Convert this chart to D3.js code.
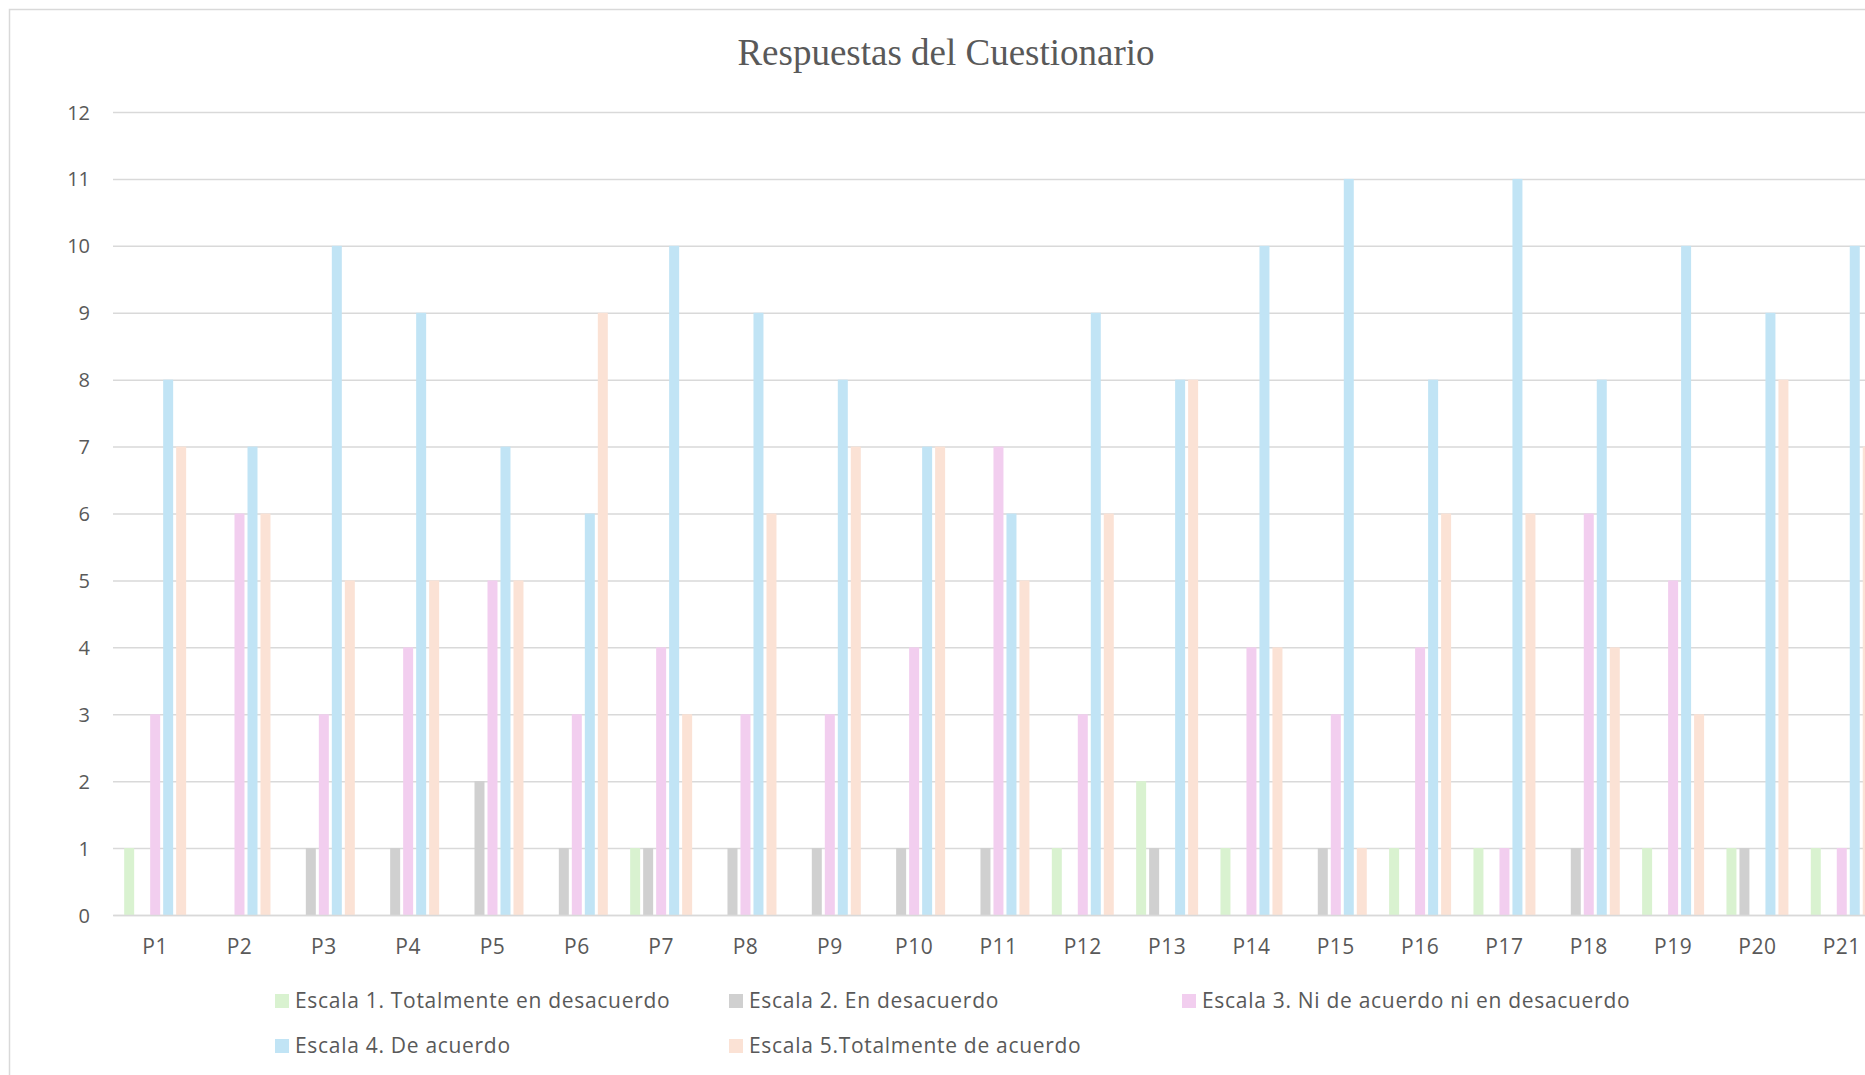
<!DOCTYPE html>
<html lang="es">
<head>
<meta charset="utf-8">
<title>Respuestas del Cuestionario</title>
<script src="https://cdn.jsdelivr.net/npm/d3@7/dist/d3.min.js"></script>
<style>
  html, body { margin: 0; padding: 0; background: #ffffff; overflow: hidden; }
  svg { display: block; }
  .tick-label, .legend-label { font-family: "Open Sans", "Liberation Sans", Arial, sans-serif; fill: #595959; }
  .title { font-family: "Liberation Serif", "Times New Roman", serif; fill: #595959; }
</style>
</head>
<body>
<svg id="chart" width="1865" height="1075"></svg>
<script>
// Preguntas del cuestionario
const categories = ["P1","P2","P3","P4","P5","P6","P7","P8","P9","P10","P11","P12","P13","P14","P15","P16","P17","P18","P19","P20","P21"];

// Nombres de las escalas de respuesta
const seriesNames = [
  "Escala 1. Totalmente en desacuerdo",
  "Escala 2. En desacuerdo",
  "Escala 3. Ni de acuerdo ni en desacuerdo",
  "Escala 4. De acuerdo",
  "Escala 5.Totalmente de acuerdo"
];

// Número de respuestas por escala y pregunta
const escala1 = [1,0,0,0,0,0,1,0,0,0,0,1,2,1,0,1,1,0,1,1,1];
const escala2 = [0,0,1,1,2,1,1,1,1,1,1,0,1,0,1,0,0,1,0,1,0];
const escala3 = [3,6,3,4,5,3,4,3,3,4,7,3,0,4,3,4,1,6,5,0,1];
const escala4 = [8,7,10,9,7,6,10,9,8,7,6,9,8,10,11,8,11,8,10,9,10];
const escala5 = [7,6,5,5,5,9,3,6,7,7,5,6,8,4,1,6,6,4,3,8,7];

const yTicks = [0,1,2,3,4,5,6,7,8,9,10,11,12];

const colors = ["#d9f2d0", "#d0d0d0", "#f2ceef", "#c1e4f5", "#fbe2d5"];

const seriesValues = [escala1, escala2, escala3, escala4, escala5];

const svg = d3.select("#chart");

// Marco del gráfico
svg.append("rect")
  .attr("x", 9.5).attr("y", 9.5)
  .attr("width", 1900).attr("height", 1100)
  .attr("fill", "#ffffff")
  .attr("stroke", "#d9d9d9")
  .attr("stroke-width", 1.5);

// Título
svg.append("text")
  .attr("class", "title")
  .attr("x", 946).attr("y", 65)
  .attr("text-anchor", "middle")
  .attr("font-size", 37)
  .text("Respuestas del Cuestionario");

const plotLeft = 113;
const step = 84.33;
const plotRight = plotLeft + step * categories.length;

const x = d3.scaleBand()
  .domain(categories)
  .range([plotLeft, plotRight])
  .paddingInner(0.265)
  .paddingOuter(0.1325);

const xInner = d3.scaleBand()
  .domain(d3.range(seriesNames.length))
  .range([0, x.bandwidth()])
  .paddingInner(0.231)
  .paddingOuter(0);

const y = d3.scaleLinear()
  .domain([0, 12])
  .range([915, 112]);

// Líneas de la cuadrícula
const yAxis = d3.axisLeft(y)
  .tickValues(yTicks)
  .tickSize(-(plotRight - plotLeft))
  .tickPadding(23)
  .tickFormat(d3.format("d"));

const gy = svg.append("g")
  .attr("transform", `translate(${plotLeft},0)`)
  .call(yAxis);
gy.select(".domain").remove();
gy.selectAll(".tick line")
  .attr("stroke", "#d9d9d9")
  .attr("stroke-width", 1.5);
gy.selectAll(".tick text")
  .attr("class", "tick-label")
  .attr("font-size", 20)
  .attr("dy", "0.35em");

// Barras agrupadas
const rows = categories.map((c, i) => ({
  cat: c,
  values: seriesValues.map((s, k) => ({ k, v: s[i] }))
}));

const groups = svg.append("g")
  .selectAll("g")
  .data(rows)
  .join("g")
  .attr("transform", d => `translate(${x(d.cat)},0)`);

groups.selectAll("rect")
  .data(d => d.values.filter(e => e.v > 0))
  .join("rect")
  .attr("x", e => xInner(e.k))
  .attr("y", e => y(e.v))
  .attr("width", xInner.bandwidth())
  .attr("height", e => y(0) - y(e.v))
  .attr("fill", e => colors[e.k]);

// Eje de categorías
const xAxis = d3.axisBottom(x).tickSize(0).tickPadding(24);
const gx = svg.append("g")
  .attr("transform", `translate(0,${y(0)})`)
  .call(xAxis);
gx.select(".domain")
  .attr("stroke", "#d9d9d9")
  .attr("stroke-width", 1.5);
gx.selectAll(".tick text")
  .attr("class", "tick-label")
  .attr("font-size", 21)
  .attr("letter-spacing", "0.5px");

// Leyenda
const legendPos = [
  { x: 275, y: 1001 },
  { x: 729, y: 1001 },
  { x: 1182, y: 1001 },
  { x: 275, y: 1046 },
  { x: 729, y: 1046 }
];

const legend = svg.append("g")
  .selectAll("g")
  .data(seriesNames)
  .join("g")
  .attr("transform", (d, i) => `translate(${legendPos[i].x},${legendPos[i].y})`);

legend.append("rect")
  .attr("x", 0).attr("y", -7)
  .attr("width", 14).attr("height", 14)
  .attr("fill", (d, i) => colors[i]);

legend.append("text")
  .attr("class", "legend-label")
  .attr("x", 20).attr("y", 0)
  .attr("dy", "0.35em")
  .attr("font-size", 21)
  .attr("letter-spacing", "0.7px")
  .text(d => d);
</script>
</body>
</html>
